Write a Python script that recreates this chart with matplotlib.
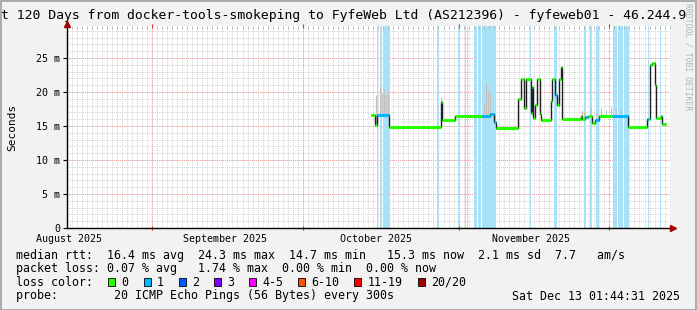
import numpy as np
import matplotlib.pyplot as plt
from matplotlib.patches import Rectangle

# days since Fri Aug 15 01:44:31 2025 (last 120 days up to Dec 13)
step_day = [60.5, 61.3, 61.7, 64.1, 74.4, 74.6, 77.2, 82.6, 84.2, 85.0, 85.4,
            89.75, 90.35, 90.95, 91.35, 92.3, 92.5, 92.8, 93.1, 93.5, 94.1, 94.3,
            96.3, 96.5, 97.1, 97.5, 97.9, 98.3, 98.5, 102.3, 102.5, 103.1, 103.7,
            104.5, 105.1, 105.9, 108.5, 111.6, 115.4, 115.8, 116.0, 116.4, 117.0,
            117.2, 118.2, 118.4]
median_ms = [16.6, 15.1, 16.6, 14.9, 18.5, 15.9, 16.5, 16.5, 16.7, 15.6, 14.75,
             19.0, 21.9, 17.7, 21.9, 16.9, 20.8, 16.2, 18.1, 21.9, 16.8, 15.9,
             18.7, 21.9, 19.6, 18.1, 21.9, 23.6, 16.0, 16.5, 16.0, 16.3, 16.5,
             15.4, 15.9, 16.4, 16.4, 14.9, 16.0, 16.0, 24.0, 24.3, 21.0,
             16.2, 16.5, 15.3]
loss_pings = [0, 0, 1, 0, 0, 0, 0, 1, 1, 1, 0,
              0, 0, 0, 0, 0, 0, 0, 0, 0, 0, 0,
              0, 0, 1, 0, 0, 0, 0, 0, 0, 1, 0,
              0, 1, 0, 1, 0, 1, 0, 0, 0, 0,
              0, 0, 0]
end_day = 119.2

# periods with packet loss (background bars)
band_start = [61.6, 62.35, 62.83, 73.7, 77.8, 79.2, 79.7, 81.05, 81.7, 82.65,
              92.1, 96.97, 102.9, 104.1, 105.2, 108.6, 109.6, 110.9, 115.55, 117.95]
band_end = [61.8, 62.63, 64.28, 74.0, 78.0, 79.4, 79.9, 81.5, 82.4, 85.3,
            92.3, 97.45, 103.3, 104.4, 105.9, 109.4, 110.6, 111.8, 115.9, 118.15]

# smoke (spread of individual pings)
smoke_day = [61.5, 62.3, 62.7, 63.1, 63.5, 63.9, 74.5, 82.9, 83.3, 83.7, 84.1,
             102.5, 102.9, 104.3, 105.3, 106.3, 107.3, 108.3, 109.3, 110.3]
smoke_ms = [19.5, 20.8, 19.9, 20.5, 19.6, 20.2, 19.3, 18.2, 21.3, 20.4, 19.8,
            17.4, 17.0, 17.8, 17.2, 17.6, 17.3, 17.8, 17.5, 17.4]

month_day = [16.93, 46.93, 77.93, 107.93]
label_day = [0.43, 31.43, 61.43, 92.43]
month_label = ['August 2025', 'September 2025', 'October 2025', 'November 2025']

loss_names = ['0', '1', '2', '3', '4-5', '6-10', '11-19', '20/20']
loss_colors = ['#26ff00', '#00b8ff', '#0059ff', '#7e00ff', '#ff00ff', '#ff5500', '#ff0000', '#a10000']

title = 't 120 Days from docker-tools-smokeping to FyfeWeb Ltd (AS212396) - fyfeweb01 - 46.244.9'
rtt_line = 'median rtt:  16.4 ms avg  24.3 ms max  14.7 ms min   15.3 ms now  2.1 ms sd  7.7   am/s'
loss_line = 'packet loss: 0.07 % avg   1.74 % max  0.00 % min  0.00 % now'
probe_line = 'probe:        20 ICMP Echo Pings (56 Bytes) every 300s'
stamp = 'Sat Dec 13 01:44:31 2025'

W, H = 697, 310
mono = 'DejaVu Sans Mono'
fig = plt.figure(figsize=(W / 100, H / 100), dpi=100, facecolor='#f2f2f2')
ax = fig.add_axes([67 / W, 82 / H, 603 / W, 202 / H])
ax.set_facecolor('white')
ymax = 29.7
ax.set_xlim(0, 120)
ax.set_ylim(0, ymax)

# grid
minor_days = np.arange(0.93, 120, 1.0)
ax.vlines(minor_days, 0, ymax, colors='#d4d4d4', lw=0.7, linestyles=(0, (1, 1)), zorder=0.5)
ax.hlines(np.arange(1, 30), 0, 120, colors='#d4d4d4', lw=0.7, linestyles=(0, (1, 1)), zorder=0.5)
ax.vlines(month_day, 0, ymax, colors='#f0a0a0', lw=0.7, linestyles=(0, (1, 1)), zorder=0.6)
ax.hlines(np.arange(5, 30, 5), 0, 120, colors='#f0a0a0', lw=0.7, linestyles=(0, (1, 1)), zorder=0.6)

# loss background
for s, e in zip(band_start, band_end):
    ax.axvspan(s, e, color='#a8e2f8', lw=0, zorder=1)

# smoke
for d, top in zip(smoke_day, smoke_ms):
    i = np.searchsorted(step_day, d) - 1
    ax.vlines(d, median_ms[i], top, colors='#c0c0c0', lw=0.8, zorder=1.5)

# median line
edges = step_day + [end_day]
ax.stairs(median_ms, edges, baseline=None, color='#202020', lw=1.0, zorder=2)
ax.hlines(median_ms, edges[:-1], edges[1:], colors=[loss_colors[l] for l in loss_pings],
          lw=2.2, zorder=3)

# axes
for side in ['top', 'right']:
    ax.spines[side].set_visible(False)
for side in ['left', 'bottom']:
    ax.spines[side].set_color('black')
    ax.spines[side].set_linewidth(1.0)
ax.plot([0], [ymax + 0.35], marker='^', ms=5, color='#a00000', clip_on=False, zorder=5)
ax.plot([120.5], [0], marker='>', ms=5, color='#a00000', clip_on=False, zorder=5)

ax.set_yticks(range(0, 30, 5))
ax.set_yticklabels(['0'] + ['%d m' % v for v in range(5, 30, 5)], fontsize=7.2, family=mono)
ax.tick_params(axis='y', length=3, width=0.8, pad=2)
ax.set_xticks(month_day)
ax.set_xticks(minor_days, minor=True)
ax.set_xticklabels([])
ax.tick_params(axis='x', which='major', length=3, width=0.8, color='#e03030', top=True,
               direction='inout')
ax.tick_params(axis='x', which='minor', length=2, width=0.6, color='#b0b0b0', top=True,
               bottom=False, direction='in')
for d, lab in zip(label_day, month_label):
    ax.text(d, -0.03, lab, transform=ax.get_xaxis_transform(), ha='center', va='top',
            fontsize=7.2, family=mono)
fig.text(12 / W, 1 - 127 / H, 'Seconds', rotation=90, ha='center', va='center',
         fontsize=8, family=mono)

# title and legend
fig.text(1 / W, 1 - 16 / H, title, ha='left', va='center', fontsize=9.45, family=mono)
fig.text(16 / W, 1 - 255 / H, rtt_line, ha='left', va='center', fontsize=8.4, family=mono)
fig.text(16 / W, 1 - 268.5 / H, loss_line, ha='left', va='center', fontsize=8.4, family=mono)
fig.text(16 / W, 1 - 282 / H, 'loss color:', ha='left', va='center', fontsize=8.4, family=mono)
cw = 7.03
col = 13
for name, c in zip(loss_names, loss_colors):
    x0 = 16 + col * cw + 1
    fig.patches.append(Rectangle((x0 / W, 1 - 286 / H), 7 / W, 8 / H, facecolor=c,
                                 edgecolor='black', lw=0.6, transform=fig.transFigure))
    fig.text((16 + (col + 2) * cw) / W, 1 - 282 / H, name, ha='left', va='center',
             fontsize=8.4, family=mono)
    col += 4 + len(name)
fig.text(16 / W, 1 - 296 / H, probe_line, ha='left', va='center', fontsize=8.4, family=mono)
fig.text(680 / W, 1 - 296 / H, stamp, ha='right', va='center', fontsize=8.4, family=mono)
fig.text(688 / W, 1 - 3 / H, 'RRDTOOL / TOBI OETIKER', rotation=270, ha='center', va='top',
         fontsize=5.9, family=mono, color='#b4b4b4')

# frame shading
fig.patches.append(Rectangle((0.5 / W, 0.5 / H), (W - 1.5) / W, (H - 1.5) / H, fill=False,
                             edgecolor='#a0a0a0', lw=1.2, transform=fig.transFigure))

fig.savefig('out.png', dpi=100, facecolor=fig.get_facecolor())
